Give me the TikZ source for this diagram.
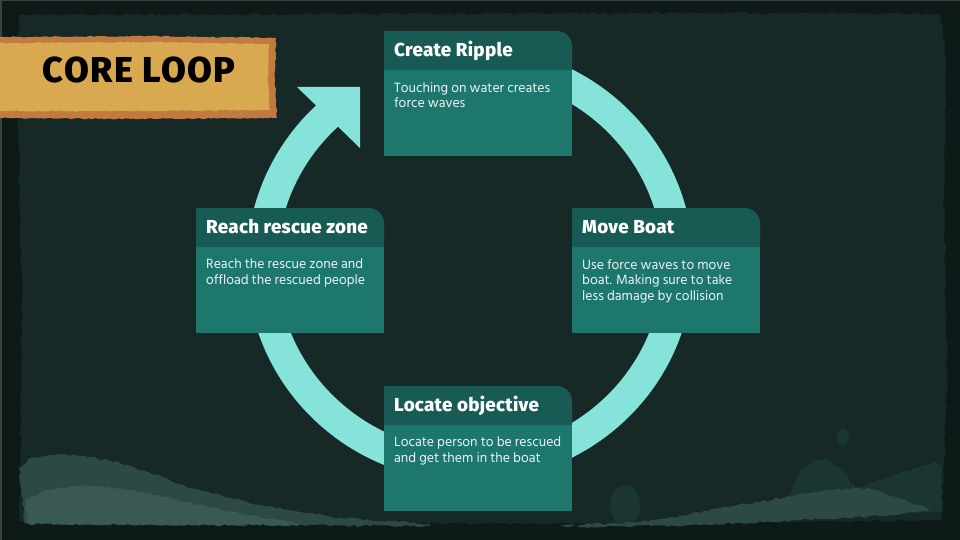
\documentclass[tikz,border=0pt]{standalone}
\usepackage{fontspec}
\setmainfont{Fira Sans}
\newfontfamily\bodyfont{Hind Siliguri}
\newfontfamily\headfont[LetterSpace=1.5]{Fira Sans ExtraBold}
\newfontfamily\titlefont[LetterSpace=4]{Fira Sans ExtraBold}
\usetikzlibrary{decorations.pathmorphing}
\definecolor{bgdark}{HTML}{0E1A18}
\definecolor{bgmain}{HTML}{162927}
\definecolor{hillA}{HTML}{2D4945}
\definecolor{hillB}{HTML}{3A5954}
\definecolor{hillC}{HTML}{1B3632}
\definecolor{ringc}{HTML}{86E3D9}
\definecolor{headc}{HTML}{175B54}
\definecolor{bodyc}{HTML}{1E776D}
\definecolor{orangeb}{HTML}{C27A3E}
\definecolor{tanb}{HTML}{D8A951}
\definecolor{frameg}{HTML}{3B4240}
\tikzset{
  torn/.style={decorate, decoration={random steps, segment length=4pt, amplitude=1.2pt}},
  softtorn/.style={decorate, decoration={random steps, segment length=3pt, amplitude=0.6pt}},
  headtxt/.style={anchor=base west, inner sep=0pt, text=white,
    font=\headfont\fontsize{18.8}{21}\selectfont},
  bodytxt/.style={anchor=north west, inner sep=0pt, align=left, text=white!92!bodyc,
    font=\bodyfont\fontsize{13.8}{15.7}\selectfont},
}
\newcommand\card[5]{%
  \begin{scope}[shift={(#2,#3)}]
    \fill[bodyc] (0,39) rectangle (188,125);
    \fill[headc] (0,39) -- (0,0) -- (173,0) arc[start angle=-90, end angle=0, radius=15] -- (188,39) -- cycle;
    \node[headtxt] (#1h) at (10,25.5) {#4};
    \node[bodytxt] (#1b) at (10,51) {#5};
  \end{scope}}
\begin{document}
\begin{tikzpicture}[x=1pt, y=-1pt]
\pgfmathsetseed{7}
\useasboundingbox (0,0) rectangle (960,540);
% background
\fill[bgdark] (0,0) rectangle (960,540);
\fill[frameg] (0,0) rectangle (960,1.5);
\fill[frameg] (0,0) rectangle (1.5,540);
\fill[bgmain, torn] (19,15) -- (700,13) -- (940,14) -- (946,60) -- (944,200) -- (947,380) -- (942,520) -- (600,524) -- (300,522) -- (20,521) -- (22,300) -- (18,120) -- cycle;
% hills left
\fill[hillA, torn] (19,468) -- (30,458) -- (50,455) -- (85,456) -- (120,463) -- (150,473) -- (185,486) -- (230,498) -- (260,505) -- (300,512) -- (340,518) -- (390,521) -- (430,524) -- (430,526) -- (25,524) -- cycle;
\fill[hillB, torn] (25,500) -- (45,490) -- (70,487) -- (100,486) -- (130,490) -- (165,497) -- (205,506) -- (245,515) -- (280,520) -- (300,525) -- (28,524) -- cycle;
% hills right
\fill[hillC] (625,505) ellipse[x radius=15, y radius=20];
\fill[hillC] (843,437) ellipse[x radius=6, y radius=8];
\fill[hillC, torn] (790,495) -- (800,470) -- (815,459) -- (830,461) -- (845,472) -- (855,488) -- (880,480) -- (910,470) -- (935,462) -- (942,466) -- (942,512) -- (790,512) -- cycle;
\fill[hillA, torn] (560,526) -- (640,522) -- (680,516) -- (720,508) -- (760,502) -- (800,494) -- (830,490) -- (860,488) -- (880,491) -- (900,499) -- (920,505) -- (930,510) -- (880,516) -- (800,520) -- (700,525) -- (600,527) -- cycle;
% ring
\draw[ringc, line width=30.5pt] (470,263.5) ++(-80:208 and 203) arc[start angle=-80, end angle=227, x radius=208, y radius=203];
\fill[ringc] (297,87) -- (360,87) -- (360,148) -- cycle;
% cards
\card{cr}{384}{31}{Create Ripple}{Touching on water creates\\force waves}
\card{mb}{572}{208}{Move Boat}{Use force waves to move\\boat. Making sure to take\\less damage by collision}
\card{lo}{384}{386}{Locate objective}{Locate person to be rescued\\and get them in the boat}
\card{rr}{196}{208}{Reach rescue zone}{Reach the rescue zone and\\offload the rescued people}
% title
\fill[orangeb, softtorn] (-5,37) -- (150,36) -- (276,38) -- (275,80) -- (277,118) -- (140,119) -- (-5,118) -- cycle;
\fill[tanb, softtorn] (-5,43) -- (150,42) -- (269,44) -- (268,80) -- (270,110) -- (140,111) -- (-5,111) -- cycle;
\node[anchor=base, inner sep=0pt, font=\titlefont\fontsize{36}{40}\selectfont, text=black] (title) at (139,83) {CORE LOOP};
\end{tikzpicture}
\end{document}
